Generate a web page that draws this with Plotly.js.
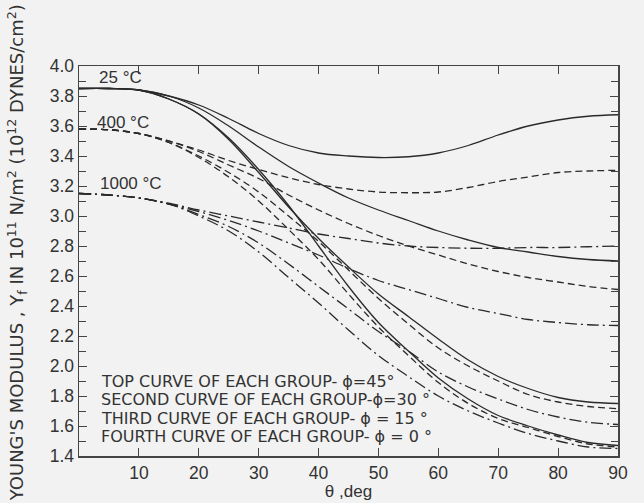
<!DOCTYPE html>
<html><head><meta charset="utf-8">
<script src="https://cdn.plot.ly/plotly-3.0.1.min.js"></script>
<style>html,body{margin:0;padding:0;background:#f2f2f2;}#chart{width:644px;height:503px;}</style>
</head><body><div id="chart"></div>
<script>
// theta, deg
var theta = [0,5,10,15,20,25,30,35,40,45,50,55,60,65,70,75,80,85,90];
// 25 °C (solid)
var t25_phi45 = [3.85,3.85,3.84,3.80,3.74,3.65,3.55,3.47,3.42,3.40,3.39,3.395,3.42,3.47,3.54,3.60,3.64,3.665,3.675];
var t25_phi30 = [3.85,3.85,3.84,3.80,3.72,3.60,3.46,3.33,3.22,3.12,3.04,2.97,2.90,2.84,2.79,2.76,2.73,2.71,2.70];
var t25_phi15 = [3.85,3.85,3.84,3.78,3.68,3.51,3.29,3.06,2.85,2.66,2.48,2.33,2.18,2.04,1.93,1.85,1.79,1.76,1.75];
var t25_phi0  = [3.85,3.85,3.84,3.78,3.68,3.52,3.31,3.07,2.80,2.53,2.29,2.10,1.92,1.78,1.67,1.60,1.54,1.49,1.47];
// 400 °C (dashed)
var t400_phi45 = [3.58,3.575,3.55,3.50,3.44,3.37,3.31,3.255,3.21,3.18,3.16,3.155,3.16,3.19,3.23,3.26,3.29,3.30,3.305];
var t400_phi30 = [3.58,3.575,3.55,3.50,3.43,3.34,3.25,3.14,3.04,2.95,2.87,2.80,2.74,2.68,2.63,2.59,2.56,2.53,2.51];
var t400_phi15 = [3.58,3.575,3.55,3.49,3.40,3.29,3.16,3.00,2.83,2.64,2.45,2.28,2.12,2.00,1.90,1.81,1.76,1.73,1.715];
var t400_phi0  = [3.58,3.575,3.55,3.49,3.39,3.26,3.10,2.91,2.71,2.48,2.26,2.07,1.89,1.75,1.65,1.59,1.53,1.48,1.46];
// 1000 °C (dash-dot)
var t1000_phi45 = [3.15,3.14,3.12,3.085,3.04,3.00,2.96,2.92,2.88,2.85,2.82,2.80,2.79,2.785,2.785,2.79,2.79,2.795,2.80];
var t1000_phi30 = [3.15,3.14,3.12,3.08,3.03,2.97,2.90,2.82,2.74,2.65,2.57,2.51,2.45,2.39,2.35,2.31,2.29,2.275,2.27];
var t1000_phi15 = [3.15,3.14,3.12,3.08,3.01,2.93,2.82,2.68,2.53,2.38,2.23,2.10,1.96,1.86,1.78,1.71,1.66,1.625,1.61];
var t1000_phi0  = [3.15,3.14,3.12,3.08,3.00,2.90,2.76,2.59,2.42,2.24,2.07,1.93,1.80,1.70,1.62,1.55,1.50,1.46,1.45];

var xTicks = [10,20,30,40,50,60,70,80,90];
var xTickText = ['10','20','30','40','50','60','70','80','90'];
var yTicks = [1.4,1.6,1.8,2.0,2.2,2.4,2.6,2.8,3.0,3.2,3.4,3.6,3.8,4.0];
var yTickText = ['1.4','1.6','1.8','2.0','2.2','2.4','2.6','2.8','3.0','3.2','3.4','3.6','3.8','4.0'];

var groupLabels = ['25 °C','400 °C','1000 °C'];
var legendLines = ['TOP CURVE OF EACH GROUP- ϕ=45°','SECOND CURVE OF EACH GROUP-ϕ=30 °','THIRD CURVE OF EACH GROUP- ϕ = 15 °','FOURTH CURVE OF EACH GROUP- ϕ = 0 °'];

var ink = '#2a2a2a';
function tr(y, dash){
  return {x: theta, y: y, mode:'lines', line:{color:ink, width:1.3, dash:dash, shape:'spline', smoothing:1}, hoverinfo:'skip', showlegend:false};
}
var DASH = '7px,4px';
var DASHDOT = '12px,4px,2px,4px';
var data = [
  tr(t25_phi45,'solid'), tr(t25_phi30,'solid'), tr(t25_phi15,'solid'), tr(t25_phi0,'solid'),
  tr(t400_phi45,DASH), tr(t400_phi30,DASH), tr(t400_phi15,DASH), tr(t400_phi0,DASH),
  tr(t1000_phi45,DASHDOT), tr(t1000_phi30,DASHDOT), tr(t1000_phi15,DASHDOT), tr(t1000_phi0,DASHDOT)
];

var fontFam = 'Liberation Sans, Arial, sans-serif';
var wideFam = 'DejaVu Sans, Liberation Sans, sans-serif';
var txtCol = '#333';
var ann = [];
var gx = [3.0, 2.7, 3.2], gy = [3.925, 3.625, 3.22];
for (var i=0;i<groupLabels.length;i++){
  ann.push({x:gx[i], y:gy[i], xref:'x', yref:'y', text:groupLabels[i], showarrow:false, xanchor:'left', yanchor:'middle', font:{family:fontFam, size:17, color:txtCol}});
}
var ly = [1.90, 1.777, 1.652, 1.53];
for (var j=0;j<legendLines.length;j++){
  ann.push({x:3.4, y:ly[j], xref:'x', yref:'y', text:legendLines[j], showarrow:false, xanchor:'left', yanchor:'middle', font:{family:wideFam, size:16, color:txtCol}});
}
ann.push({x:-0.115, y:0.52, xref:'paper', yref:'paper', textangle:-90, showarrow:false, xanchor:'center', yanchor:'middle',
  text:"YOUNG'S MODULUS , Y<sub>f</sub> IN 10<sup>11</sup> N/m<sup>2</sup> (10<sup>12</sup> DYNES/cm<sup>2</sup>)",
  font:{family:wideFam, size:18, color:txtCol}});

var layout = {
  width:644, height:503,
  margin:{l:79, r:26, t:66, b:47},
  paper_bgcolor:'#f2f2f2', plot_bgcolor:'#f2f2f2',
  showlegend:false,
  xaxis:{range:[0,90], tickvals:xTicks, ticktext:xTickText, ticks:'inside', ticklen:8, tickcolor:'#444', tickwidth:1,
    showline:true, linecolor:'#444', linewidth:1.5, mirror:'ticks', showgrid:false, zeroline:false,
    tickfont:{family:fontFam, size:17.5, color:txtCol},
    title:{text:'θ ,deg', font:{family:fontFam, size:17, color:txtCol}, standoff:2}},
  yaxis:{range:[1.4,4.0], tickvals:yTicks, ticktext:yTickText, ticks:'inside', ticklen:8, tickcolor:'#444', tickwidth:1,
    minor:{dtick:0.1, tick0:1.4, ticks:'inside', ticklen:7, tickcolor:'#444', tickwidth:1},
    showline:true, linecolor:'#444', linewidth:1.5, mirror:'ticks', showgrid:false, zeroline:false,
    tickfont:{family:fontFam, size:17.5, color:txtCol}},
  annotations:ann
};
Plotly.newPlot('chart', data, layout, {staticPlot:true, displayModeBar:false});
</script></body></html>
